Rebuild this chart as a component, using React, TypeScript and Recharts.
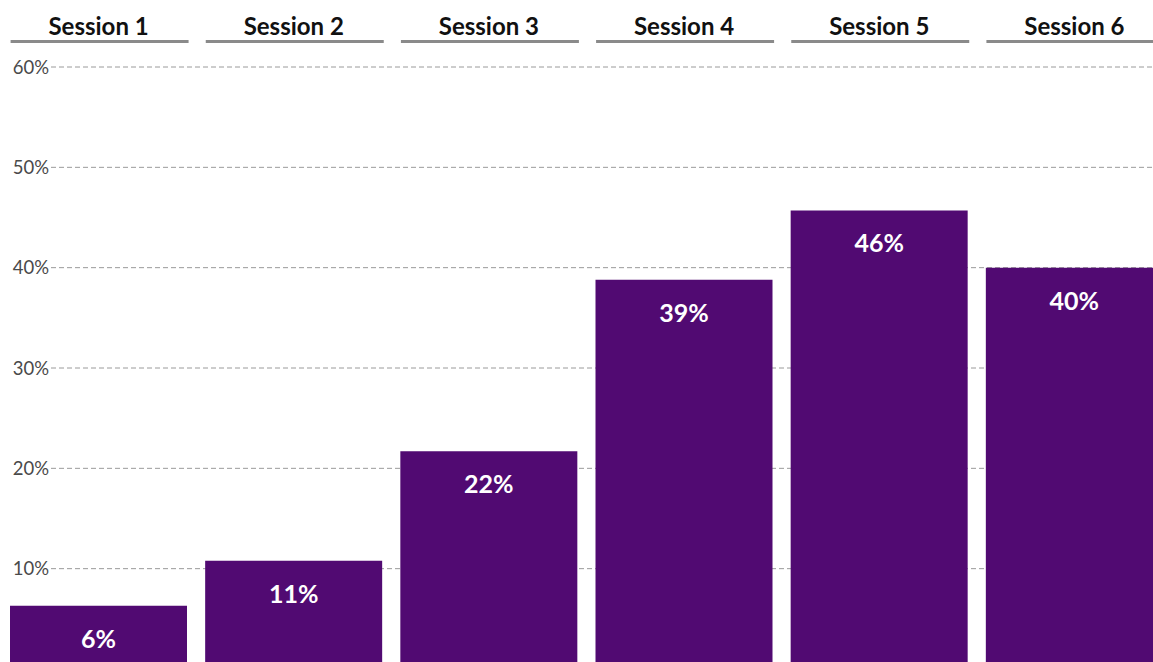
import React from "react";
import { BarChart, Bar, XAxis, YAxis, CartesianGrid, LabelList } from "recharts";

const sessions = ["Session 1", "Session 2", "Session 3", "Session 4", "Session 5", "Session 6"];
const shares = [6.3, 10.8, 21.7, 38.8, 45.7, 40.0];
const shareLabels = ["6%", "11%", "22%", "39%", "46%", "40%"];
const yTicks = [10, 20, 30, 40, 50, 60];

const data = sessions.map((s, i) => ({ session: s, share: shares[i], label: shareLabels[i] }));

const FONT = "Lato, 'Open Sans', sans-serif";

const TopTick = (props: any) => {
  const { x, payload } = props;
  return (
    <g>
      <text x={x} y={35} textAnchor="middle" fontFamily={FONT} fontWeight={700} fontSize={24} fill="#111">
        {payload.value}
      </text>
      <line x1={x - 88} x2={x + 90} y1={41.5} y2={41.5} stroke="#8a8a8a" strokeWidth={3} />
    </g>
  );
};

const LeftTick = (props: any) => {
  const { y, payload } = props;
  return (
    <text x={49} y={y} dy={6.5} textAnchor="end" fontFamily={FONT} fontWeight={400} fontSize={18.5} fill="#4a4a4a">
      {payload.value}%
    </text>
  );
};

const gridLine = (props: any) => {
  const { y1, x2 } = props;
  return (
    <line
      key={`g-${y1}`}
      x1={51}
      x2={x2}
      y1={y1}
      y2={y1}
      stroke="#9a9a9a"
      strokeWidth={1}
      strokeDasharray="5 3"
    />
  );
};

const BarLabel = (props: any) => {
  const { x, y, width, index } = props;
  return (
    <text
      x={x + width / 2}
      y={y + 33}
      dy={9}
      textAnchor="middle"
      fontFamily={FONT}
      fontWeight={700}
      fontSize={25}
      fill="#ffffff"
    >
      {shareLabels[index]}
    </text>
  );
};

export default function App() {
  return (
    <div style={{ position: "absolute", left: 0, top: 0, width: 1153, height: 662, overflow: "hidden", background: "#fff" }}>
      <BarChart
        width={1172}
        height={669}
        data={data}
        margin={{ top: 0, right: 0, bottom: 0, left: 0 }}
        barCategoryGap={9}
      >
        <CartesianGrid vertical={false} horizontal={gridLine} />
        <XAxis
          dataKey="session"
          orientation="top"
          height={67}
          axisLine={false}
          tickLine={false}
          tick={<TopTick />}
          interval={0}
        />
        <YAxis
          domain={[0, 60]}
          ticks={yTicks}
          width={1}
          axisLine={false}
          tickLine={false}
          tick={<LeftTick />}
          interval={0}
        />
        <Bar dataKey="share" fill="#510a72" isAnimationActive={false}>
          <LabelList dataKey="label" content={<BarLabel />} />
        </Bar>
      </BarChart>
    </div>
  );
}
